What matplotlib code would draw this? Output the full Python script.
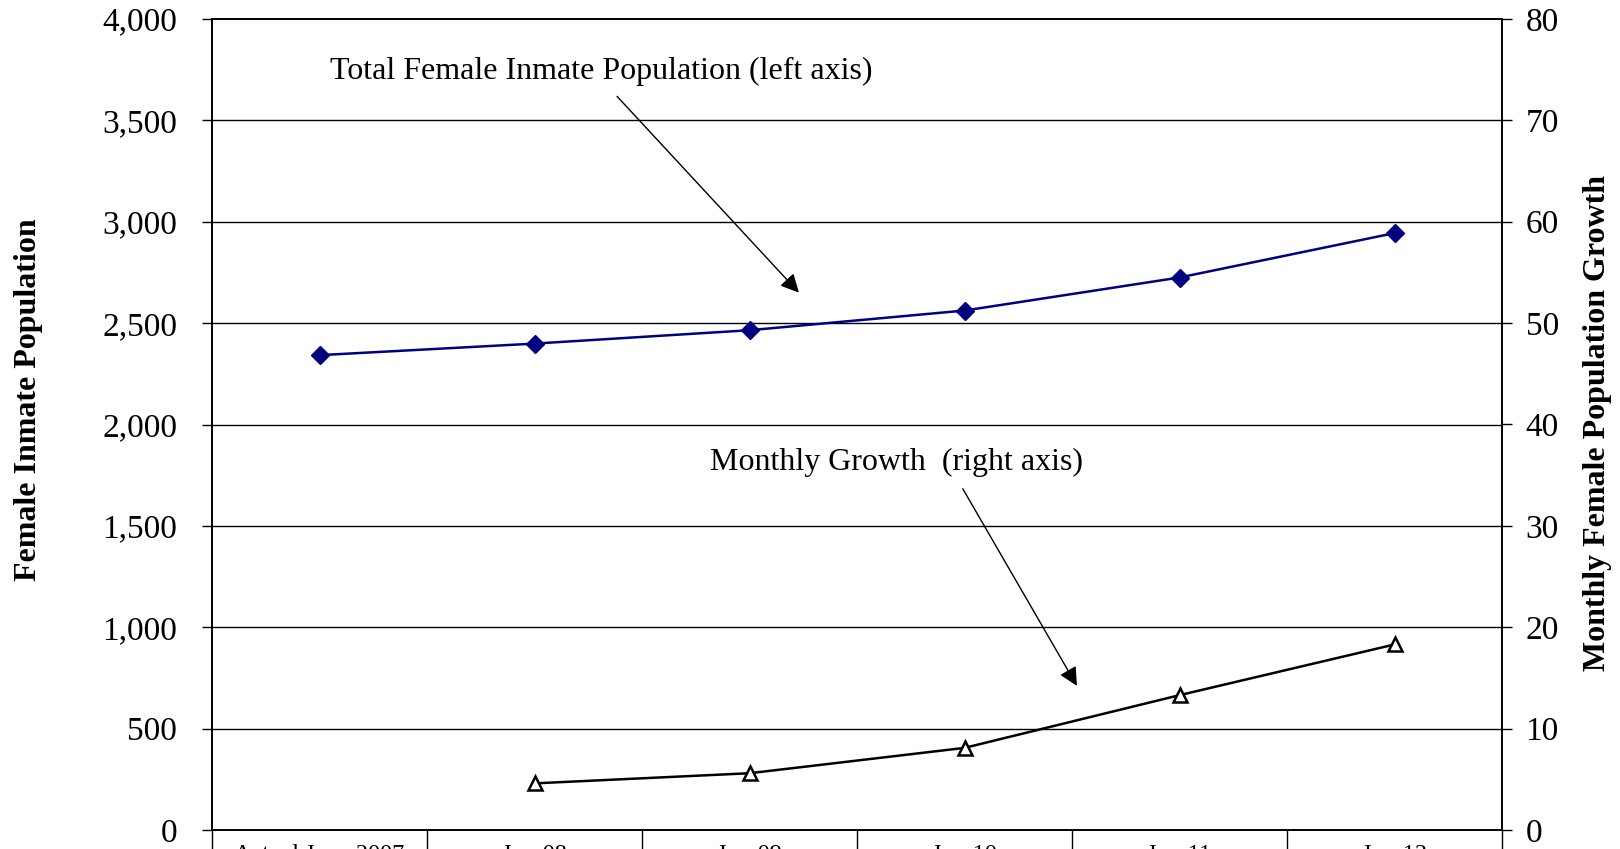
import numpy as np
import matplotlib
matplotlib.use("Agg")
import matplotlib.pyplot as plt
from matplotlib.ticker import FuncFormatter, FixedLocator

categories = ["Actual June 2007", "Jun-08", "Jun-09", "Jun-10", "Jun-11", "Jun-12"]
total_pop = [2342, 2399, 2465, 2562, 2725, 2944]
growth_cats = ["Jun-08", "Jun-09", "Jun-10", "Jun-11", "Jun-12"]
monthly_growth = [4.6, 5.6, 8.1, 13.3, 18.3]

plt.rcParams['font.family'] = ['Liberation Serif', 'DejaVu Serif']

fig = plt.figure(figsize=(16.2, 8.49), dpi=100)
ax = fig.add_axes([212/1620, 19/849, 1290/1620, 811/849])
ax2 = ax.twinx()

x = np.arange(len(categories))
xg = [categories.index(c) for c in growth_cats]

ax.set_xlim(-0.5, len(categories) - 0.5)
ax.set_ylim(0, 4000)
ax2.set_ylim(0, 80)

# horizontal gridlines
for v in np.arange(500, 4000, 500):
    ax.axhline(v, color='black', lw=1.0, zorder=0)

ax.plot(x, total_pop, color='#000080', lw=1.8, marker='D', ms=9,
        mfc='#000080', mec='#000080', zorder=3)
ax2.plot(xg, monthly_growth, color='black', lw=1.8, marker='^', ms=10,
         mfc='white', mec='black', mew=1.8, zorder=3)

ax.set_yticks(np.arange(0, 4001, 500))
ax.yaxis.set_major_formatter(FuncFormatter(lambda v, p: f"{int(v):,}"))
ax2.set_yticks(np.arange(0, 81, 10))

ax.tick_params(axis='y', labelsize=24, length=7, width=1, direction='out', pad=18)
ax2.tick_params(axis='y', labelsize=24, length=7, width=1, direction='out', pad=10)

ax.set_xticks(x)
ax.set_xticklabels(categories, fontsize=17.5)
ax.tick_params(axis='x', which='major', length=0, pad=10)
ax.xaxis.set_minor_locator(FixedLocator(np.arange(-0.5, len(categories), 1.0)))
ax.tick_params(axis='x', which='minor', length=30, width=1, direction='out')

for a in (ax, ax2):
    for s in a.spines.values():
        s.set_linewidth(1.2)
        s.set_color('black')

fig.text(29/1620, (849 - 400)/849, "Female Inmate Population", rotation=90,
         fontsize=23, fontweight='bold', ha='center', va='center')
fig.text(1597/1620, (849 - 423)/849, "Monthly Female Population Growth", rotation=90,
         fontsize=23, fontweight='bold', ha='center', va='center')

# annotation labels
ax.text(0.3016, 0.935, "Total Female Inmate Population (left axis)",
        transform=ax.transAxes, fontsize=23, ha='center', va='center')
ax.text(0.531, 0.4529, "Monthly Growth  (right axis)",
        transform=ax.transAxes, fontsize=23, ha='center', va='center')

arrow = dict(arrowstyle='-|>', color='black', lw=1, mutation_scale=28,
             shrinkA=0, shrinkB=0)
ax.annotate("", xy=(0.455, 0.6626), xycoords='axes fraction',
            xytext=(0.314, 0.9046), textcoords='axes fraction', arrowprops=arrow)
ax.annotate("", xy=(0.6705, 0.1777), xycoords='axes fraction',
            xytext=(0.582, 0.4208), textcoords='axes fraction', arrowprops=arrow)

fig.savefig("out.png", dpi=100)
